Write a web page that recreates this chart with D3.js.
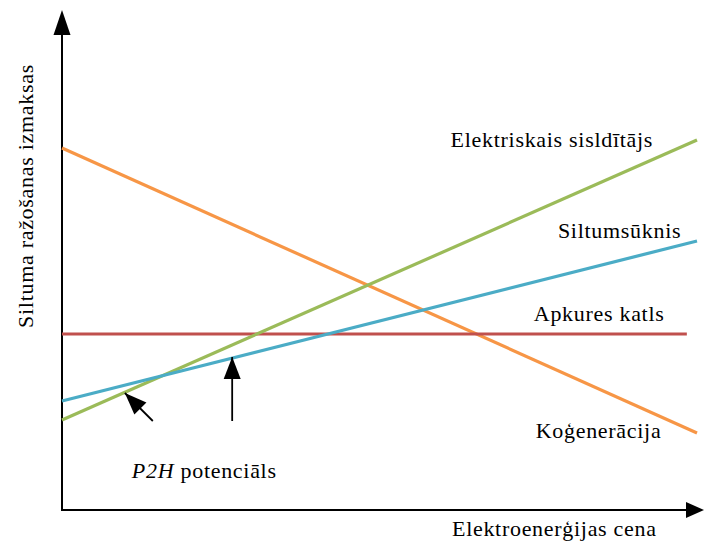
<!DOCTYPE html>
<html>
<head>
<meta charset="utf-8">
<script src="https://cdn.jsdelivr.net/npm/d3@7"></script>
<style>
  body { margin: 0; background: #fff; }
  text { font-family: "Liberation Serif", "Times New Roman", serif; fill: #000; letter-spacing: 0.7px; }
</style>
</head>
<body>
<div id="chart"></div>
<script>
// data (relative units: x = electricity price, y = heat production cost)
const seriesNames = ["Koģenerācija", "Apkures katls", "Elektriskais sisldītājs", "Siltumsūknis"];
const seriesColors = ["#F79646", "#C0504D", "#9BBB59", "#4BACC6"];
const seriesX = [[0, 100], [0, 98.4], [0, 100], [0, 100]];
const seriesY = [[72.4, 15.4], [35.2, 35.2], [18, 74], [21.8, 53.8]];
const labelPos = [[74.6, 14.4], [74.3, 37.8], [61.2, 72.6], [78.1, 54.4]];

// P2H arrows: [tailX, tailY, tipX, tipY]
const p2hArrows = [[14.3, 17.8, 9.9, 23.4], [26.8, 17.8, 26.8, 30.6]];
const p2hLabel = [11.0, 6.4];

const xTitle = "Elektroenerģijas cena";
const yTitle = "Siltuma ražošanas izmaksas";

const width = 704, height = 545;
const margin = { top: 10, right: 7, bottom: 35, left: 62 };
const fontSize = 22;

const svg = d3.select("#chart").append("svg")
  .attr("width", width)
  .attr("height", height);

const x = d3.scaleLinear().domain([0, 100]).range([margin.left, 697]);
const y = d3.scaleLinear().domain([0, 100]).range([510, margin.top]);

// arrow head helper: tip point + direction
function headPath(tx, ty, fx, fy, len, half) {
  const dx = tx - fx, dy = ty - fy;
  const L = Math.sqrt(dx * dx + dy * dy);
  const ux = dx / L, uy = dy / L;
  const bx = tx - ux * len, by = ty - uy * len;
  return `M${tx},${ty}L${bx - uy * half},${by + ux * half}L${bx + uy * half},${by - ux * half}Z`;
}

// AXES
const axisG = svg.append("g");
axisG.append("line")
  .attr("x1", x(0)).attr("y1", y(0))
  .attr("x2", x(0)).attr("y2", y(100) + 20)
  .attr("stroke", "#000").attr("stroke-width", 2);
axisG.append("path")
  .attr("d", headPath(x(0), y(100), x(0), y(0), 25, 8.5))
  .attr("fill", "#000");
axisG.append("line")
  .attr("x1", x(0) - 1).attr("y1", y(0))
  .attr("x2", 690).attr("y2", y(0))
  .attr("stroke", "#000").attr("stroke-width", 2);
axisG.append("path")
  .attr("d", headPath(704, y(0), x(0), y(0), 18, 8))
  .attr("fill", "#000");

// LINES
const line = d3.line()
  .x((d) => x(d[0]))
  .y((d) => y(d[1]));

seriesNames.forEach(function (name, i) {
  const pts = seriesX[i].map((v, j) => [v, seriesY[i][j]]);
  svg.append("path")
    .attr("d", line(pts))
    .attr("fill", "none")
    .attr("stroke", seriesColors[i])
    .attr("stroke-width", 3.2);

  svg.append("text")
    .attr("x", x(labelPos[i][0]))
    .attr("y", y(labelPos[i][1]))
    .attr("font-size", fontSize)
    .text(name);
});

// P2H ARROWS
p2hArrows.forEach(function (a) {
  const fx = x(a[0]), fy = y(a[1]), tx = x(a[2]), ty = y(a[3]);
  svg.append("line")
    .attr("x1", fx).attr("y1", fy)
    .attr("x2", tx).attr("y2", ty)
    .attr("stroke", "#000").attr("stroke-width", 1.8);
  svg.append("path")
    .attr("d", headPath(tx, ty, fx, fy, 22, 8.5))
    .attr("fill", "#000");
});

const p2h = svg.append("text")
  .attr("x", x(p2hLabel[0]))
  .attr("y", y(p2hLabel[1]))
  .attr("font-size", fontSize);
p2h.append("tspan").attr("font-style", "italic").text("P2H");
p2h.append("tspan").text(" potenciāls");

// AXIS TITLES
svg.append("text")
  .attr("x", 452)
  .attr("y", 536)
  .attr("font-size", fontSize)
  .text(xTitle);

svg.append("text")
  .attr("transform", "translate(33, 196) rotate(-90)")
  .attr("text-anchor", "middle")
  .attr("font-size", fontSize)
  .text(yTitle);
</script>
</body>
</html>
